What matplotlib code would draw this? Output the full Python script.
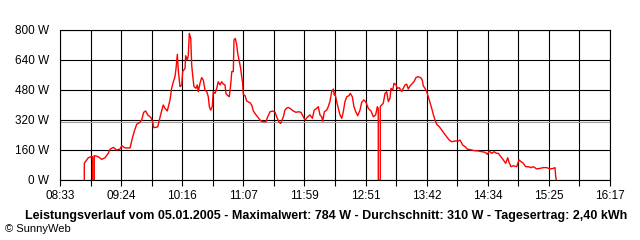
import matplotlib
matplotlib.use("Agg")
import matplotlib.pyplot as plt

# minutes since midnight, power in W
minutes = [
    533.5, 533.5, 535.5, 536.9, 539.2, 540.6, 540.6, 541.9, 541.9, 545.3,
    548.2, 551.0, 553.7, 555.2, 558.0, 560.8, 563.6, 565.1, 567.8, 572.1,
    574.0, 575.7, 577.7, 580.5, 581.9, 583.6, 585.3, 587.0, 589.8, 591.2,
    592.0, 595.4, 596.5, 598.2, 600.1, 601.6, 603.5, 605.8, 607.2, 608.6,
    610.0, 610.9, 612.0, 612.8, 614.2, 615.7, 616.5, 618.5, 619.0, 620.4,
    621.2, 622.1, 623.3, 624.1, 624.9, 626.0, 627.7, 628.8, 629.7, 631.1,
    632.5, 633.9, 635.3, 636.8, 638.1, 639.0, 640.1, 641.5, 642.3, 643.8,
    645.2, 646.5, 648.0, 649.4, 650.8, 652.2, 653.0, 654.1, 655.8, 657.0,
    657.9, 659.2, 659.8, 660.9, 662.1, 662.9, 664.3, 665.4, 666.3, 667.1,
    667.6, 669.1, 670.5, 673.3, 674.7, 676.1, 678.4, 680.3, 682.3, 684.0,
    686.8, 688.2, 690.2, 692.4, 694.4, 695.8, 697.8, 699.2, 701.4, 702.8,
    704.3, 705.6, 707.9, 709.8, 712.1, 714.0, 716.3, 718.3, 719.7, 722.0,
    723.9, 725.9, 727.5, 729.6, 730.9, 732.3, 733.8, 734.6, 736.0, 738.0,
    739.3, 740.8, 742.2, 743.6, 744.4, 745.0, 746.4, 747.8, 749.2, 750.7,
    752.0, 753.4, 754.9, 756.8, 757.9, 759.6, 761.0, 762.5, 764.2, 766.1,
    767.5, 769.2, 770.9, 773.1, 775.4, 777.3, 779.3, 780.7, 781.5, 781.5,
    783.2, 783.2, 783.6, 785.7, 787.2, 788.6, 790.0, 791.4, 792.2, 793.7,
    794.8, 796.5, 797.6, 799.2, 801.3, 802.6, 804.1, 805.5, 806.8, 808.3,
    809.7, 811.6, 813.3, 814.8, 817.3, 818.6, 819.5, 820.9, 822.4, 823.7,
    825.1, 826.6, 827.9, 829.4, 830.8, 833.0, 835.0, 837.0, 839.2, 841.4,
    843.5, 846.2, 849.0, 850.5, 852.7, 854.7, 856.6, 860.3, 863.1, 865.9,
    868.8, 871.5, 873.5, 875.2, 877.2, 879.1, 881.4, 882.8, 885.0, 887.0,
    889.0, 890.7, 891.8, 893.5, 895.4, 898.3, 900.2, 901.9, 903.9, 905.9,
    908.1, 910.4, 912.3, 915.2, 917.9, 920.7, 923.6, 926.4, 929.2, 930.6,
    931.2, 931.7,
]
watts = [
    0, 89, 107, 119, 124, 124, 0, 0, 130, 124,
    110, 119, 142, 164, 174, 160, 165, 183, 171, 171,
    222, 261, 297, 308, 320, 361, 368, 347, 332, 308,
    279, 283, 311, 356, 400, 382, 368, 427, 489, 524,
    551, 596, 670, 587, 498, 507, 578, 596, 663, 640,
    663, 782, 755, 613, 560, 498, 489, 507, 471, 516,
    546, 533, 480, 471, 444, 391, 373, 391, 471, 462,
    489, 524, 507, 524, 511, 507, 462, 453, 444, 507,
    578, 578, 747, 755, 720, 676, 631, 596, 551, 516,
    457, 450, 421, 412, 400, 368, 347, 332, 316, 311,
    311, 337, 364, 368, 361, 337, 308, 302, 337, 373,
    384, 387, 378, 368, 361, 364, 361, 337, 320, 337,
    347, 329, 373, 382, 391, 347, 337, 313, 364, 373,
    391, 421, 471, 485, 453, 462, 418, 382, 347, 329,
    364, 418, 444, 450, 462, 444, 391, 364, 343, 373,
    414, 427, 418, 382, 368, 337, 347, 391, 380, 0,
    0, 390, 395, 409, 462, 471, 418, 436, 489, 480,
    516, 507, 489, 492, 471, 489, 507, 511, 485, 502,
    511, 524, 546, 551, 546, 533, 502, 489, 471, 444,
    414, 382, 350, 320, 297, 284, 267, 249, 231, 213,
    204, 208, 208, 213, 187, 178, 165, 160, 156, 155,
    151, 148, 137, 155, 142, 151, 142, 142, 124, 107,
    89, 119, 94, 71, 76, 71, 107, 98, 89, 71,
    71, 66, 71, 59, 62, 66, 66, 59, 62, 66,
    18, 0,
]

average_w = 310
x_start, x_end = 513, 977  # 08:33 .. 16:17
tick_labels = ["08:33", "09:24", "10:16", "11:07", "11:59",
               "12:51", "13:42", "14:34", "15:25", "16:17"]
y_ticks = [0, 160, 320, 480, 640, 800]
title = ("Leistungsverlauf vom 05.01.2005 - Maximalwert: 784 W - "
         "Durchschnitt: 310 W - Tagesertrag: 2,40 kWh")

plt.rcParams["font.family"] = ["Liberation Sans", "DejaVu Sans"]

fig = plt.figure(figsize=(6.4, 2.4), dpi=100)
ax = fig.add_axes([60 / 640, 60 / 240, 550 / 640, 150 / 240])

step = (x_end - x_start) / 18
grid_x = [x_start + i * step for i in range(19)]
for gx in grid_x:
    ax.axvline(gx, color="black", lw=0.8, zorder=1)
for gy in y_ticks:
    ax.axhline(gy, color="black", lw=0.8, zorder=1)
ax.axhline(average_w, color="#a0a0a0", lw=0.8, zorder=1)

ax.plot(minutes, watts, color="red", lw=1.0, zorder=3)

ax.set_xlim(x_start, x_end)
ax.set_ylim(0, 800)
ax.set_xticks(grid_x)
ax.set_xticklabels([tick_labels[i // 2] if i % 2 == 0 else "" for i in range(19)])
ax.set_yticks(y_ticks)
ax.set_yticklabels([f"{v} W" for v in y_ticks])
ax.tick_params(axis="x", length=4, width=0.8, pad=3, labelsize=8.5)
ax.tick_params(axis="y", length=0, pad=8, labelsize=8.5)
for s in ax.spines.values():
    s.set_linewidth(0.8)

fig.text(326 / 640, 1 - 216 / 240, title, ha="center", va="center",
         fontsize=9, fontweight="bold")
fig.text(5 / 640, 1 - 229 / 240, "\u00a9 SunnyWeb", ha="left", va="center",
         fontsize=8)

fig.savefig("out.png", dpi=100)
